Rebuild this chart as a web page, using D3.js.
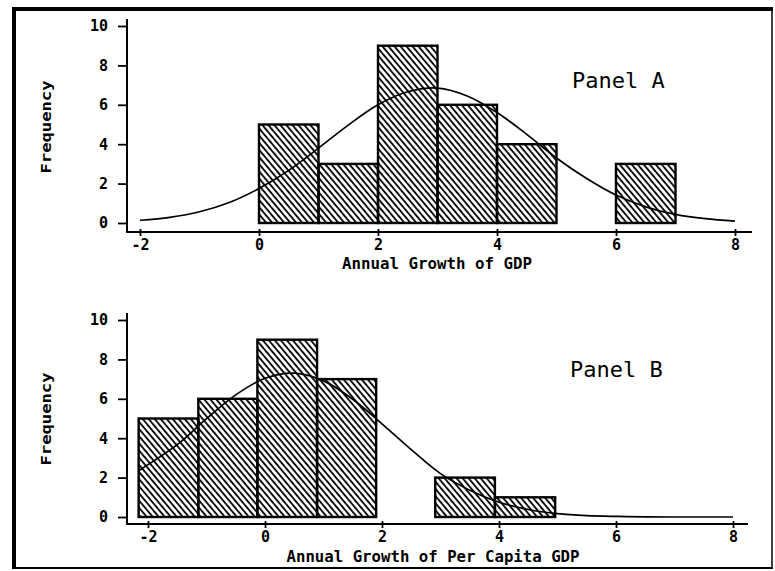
<!DOCTYPE html>
<html>
<head>
<meta charset="utf-8">
<script src="https://cdn.jsdelivr.net/npm/d3@7"></script>
<style>
  body { margin: 0; background: #fff; }
  text { font-family: "DejaVu Sans Mono", "Liberation Mono", monospace; fill: #000; }
</style>
</head>
<body>
<div id="chart"></div>
<script>
// histogram data
let edgesA = [0, 1, 2, 3, 4, 5, 6, 7];
let countsA = [5, 3, 9, 6, 4, 0, 3];
let edgesB = [-2.16, -1.14, -0.13, 0.89, 1.9, 2.91, 3.93, 4.96];
let countsB = [5, 6, 9, 7, 0, 2, 1];

// fitted normal curves
let curveXA = [-2, -1.5, -1, -0.5, 0, 0.5, 1, 1.5, 2, 2.5, 3, 3.5, 4, 4.5, 5, 5.5, 6, 6.5, 7, 7.5, 8];
let curveYA = [0.14, 0.29, 0.57, 1.04, 1.75, 2.67, 3.8, 4.97, 6.0, 6.66, 6.85, 6.45, 5.61, 4.5, 3.3, 2.27, 1.42, 0.82, 0.44, 0.22, 0.1];
let curveXB = [-2.16, -1.5, -1, -0.5, 0, 0.5, 1, 1.5, 2, 2.5, 3, 3.5, 4, 4.5, 5, 5.5, 6, 6.5, 7, 7.5, 8];
let curveYB = [2.35, 3.67, 4.99, 6.2, 7.04, 7.3, 6.91, 5.98, 4.73, 3.42, 2.2, 1.36, 0.75, 0.38, 0.17, 0.07, 0.03, 0.01, 0, 0, 0];

let xTicks = [-2, 0, 2, 4, 6, 8];
let yTicks = [0, 2, 4, 6, 8, 10];
let yLabel = "Frequency";
let xLabelA = "Annual Growth of GDP";
let xLabelB = "Annual Growth of Per Capita GDP";
let panelA = "Panel A";
let panelB = "Panel B";

let svgWidth = 775;
let svgHeight = 571;

let svg = d3.select("#chart")
    .append("svg")
    .attr("width", svgWidth)
    .attr("height", svgHeight);

// diagonal hatch
svg.append("defs").append("pattern")
    .attr("id", "hatch")
    .attr("patternUnits", "userSpaceOnUse")
    .attr("width", 4.6)
    .attr("height", 10)
    .attr("patternTransform", "rotate(-40)")
    .append("line")
    .attr("x1", 1).attr("y1", 0)
    .attr("x2", 1).attr("y2", 10)
    .attr("stroke", "#000")
    .attr("stroke-width", 1.8);

// outer frame
svg.append("line").attr("x1", 14).attr("y1", 7).attr("x2", 14).attr("y2", 569)
    .attr("stroke", "#000").attr("stroke-width", 4);
svg.append("line").attr("x1", 12).attr("y1", 9).attr("x2", 773).attr("y2", 9)
    .attr("stroke", "#000").attr("stroke-width", 4);
svg.append("line").attr("x1", 772).attr("y1", 9).attr("x2", 772).attr("y2", 569)
    .attr("stroke", "#000").attr("stroke-width", 1.5);
svg.append("line").attr("x1", 12).attr("y1", 568).attr("x2", 773).attr("y2", 568)
    .attr("stroke", "#000").attr("stroke-width", 2);

function drawPanel(p) {
    let xScale = d3.scaleLinear().domain([-2, 8]).range(p.xRange);
    let yScale = d3.scaleLinear().domain([0, 10]).range(p.yRange);
    let g = svg.append("g");

    // bars
    let bars = p.counts.map((c, i) => ({ x0: p.edges[i], x1: p.edges[i + 1], n: c }))
        .filter(d => d.n > 0);
    g.selectAll("rect.bar")
        .data(bars)
        .enter()
        .append("rect")
        .attr("class", "bar")
        .attr("x", d => xScale(d.x0))
        .attr("y", d => yScale(d.n))
        .attr("width", d => xScale(d.x1) - xScale(d.x0))
        .attr("height", d => yScale(0) - yScale(d.n))
        .attr("fill", "url(#hatch)")
        .attr("stroke", "#000")
        .attr("stroke-width", 2.4);

    // normal curve
    let pts = p.cx.map((x, i) => [x, p.cy[i]]);
    g.append("path")
        .datum(pts)
        .attr("fill", "none")
        .attr("stroke", "#000")
        .attr("stroke-width", 1.7)
        .attr("d", d3.line()
            .x(d => xScale(d[0]))
            .y(d => yScale(d[1]))
            .curve(d3.curveCatmullRom));

    // y axis
    let leftAxis = d3.axisLeft(yScale).tickValues(yTicks).tickSize(9).tickPadding(10);
    let ya = g.append("g")
        .attr("transform", `translate(${p.axisX}, 0)`)
        .call(leftAxis);
    ya.select(".domain").remove();
    ya.append("line")
        .attr("x1", 0).attr("x2", 0)
        .attr("y1", yScale(10.35)).attr("y2", p.axisY)
        .attr("stroke", "#000").attr("stroke-width", 2);
    ya.selectAll(".tick line").attr("stroke-width", 1.8);
    ya.selectAll(".tick text")
        .attr("font-family", "DejaVu Sans Mono")
        .attr("font-weight", "bold")
        .attr("font-size", 15);

    // x axis
    let bottomAxis = d3.axisBottom(xScale).tickValues(xTicks).tickSize(4).tickPadding(3)
        .tickFormat(d3.format("d"));
    let xa = g.append("g")
        .attr("transform", `translate(0, ${p.axisY})`)
        .call(bottomAxis);
    xa.select(".domain").remove();
    xa.append("line")
        .attr("x1", p.axisX - 1).attr("x2", p.xEnd)
        .attr("y1", 0).attr("y2", 0)
        .attr("stroke", "#000").attr("stroke-width", 2.2);
    xa.selectAll(".tick line").attr("stroke-width", 1.8).attr("y1", -3);
    xa.selectAll(".tick text")
        .text(d => d < 0 ? "-" + Math.abs(d) : d)
        .attr("font-family", "DejaVu Sans Mono")
        .attr("font-weight", "bold")
        .attr("font-size", 15);

    // labels
    g.append("text")
        .attr("transform", `translate(51, ${p.yMid}) rotate(-90)`)
        .attr("text-anchor", "middle")
        .attr("font-weight", "bold")
        .attr("font-size", 14)
        .attr("textLength", 93)
        .attr("lengthAdjust", "spacingAndGlyphs")
        .text(yLabel);

    g.append("text")
        .attr("x", p.xLabelX)
        .attr("y", p.xLabelY)
        .attr("text-anchor", "middle")
        .attr("font-weight", "bold")
        .attr("font-size", 15)
        .attr("textLength", p.xLabelLen)
        .attr("lengthAdjust", "spacingAndGlyphs")
        .text(p.xLabel);

    g.append("text")
        .attr("x", p.panelX)
        .attr("y", p.panelY)
        .attr("font-size", 22)
        .text(p.panel);
}

drawPanel({
    edges: edgesA, counts: countsA, cx: curveXA, cy: curveYA,
    xRange: [140, 735], yRange: [223, 26],
    axisX: 127, axisY: 232, xEnd: 752,
    yMid: 127, xLabel: xLabelA, xLabelX: 437, xLabelY: 269, xLabelLen: 190,
    panel: panelA, panelX: 572, panelY: 88
});

drawPanel({
    edges: edgesB, counts: countsB, cx: curveXB, cy: curveYB,
    xRange: [148, 733], yRange: [517, 320],
    axisX: 127, axisY: 524, xEnd: 748,
    yMid: 419, xLabel: xLabelB, xLabelX: 433, xLabelY: 562, xLabelLen: 293,
    panel: panelB, panelX: 570, panelY: 377
});
</script>
</body>
</html>
